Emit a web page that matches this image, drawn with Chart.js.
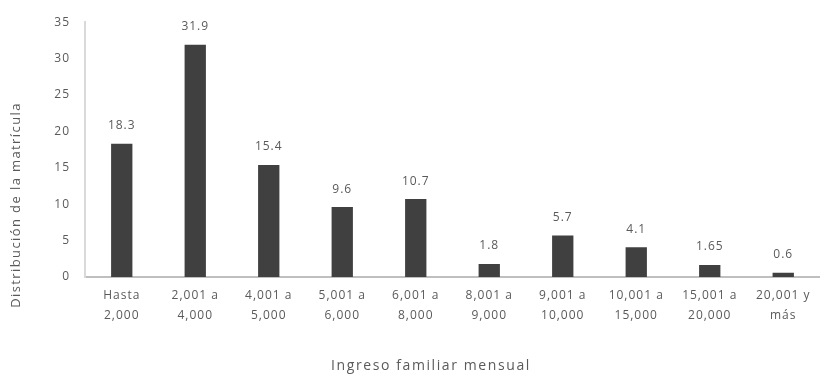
<!DOCTYPE html>
<html>
<head>
<meta charset="utf-8">
<script src="https://cdn.jsdelivr.net/npm/chart.js@4/dist/chart.umd.min.js"></script>
<style>
  html, body { margin: 0; padding: 0; background: #ffffff; }
  #wrap { width: 820px; height: 378px; position: relative; }
</style>
</head>
<body>
<div id="wrap"><canvas id="c"></canvas></div>
<script>
// Income brackets (two-line labels) and share of enrolment per bracket
const categories = [
  ["Hasta", "2,000"],
  ["2,001 a", "4,000"],
  ["4,001 a", "5,000"],
  ["5,001 a", "6,000"],
  ["6,001 a", "8,000"],
  ["8,001 a", "9,000"],
  ["9,001 a", "10,000"],
  ["10,001 a", "15,000"],
  ["15,001 a", "20,000"],
  ["20,001 y", "más"]
];
const enrolment = [18.3, 31.9, 15.4, 9.6, 10.7, 1.8, 5.7, 4.1, 1.65, 0.6];
const valueLabels = ["18.3", "31.9", "15.4", "9.6", "10.7", "1.8", "5.7", "4.1", "1.65", "0.6"];
const yTicks = [0, 5, 10, 15, 20, 25, 30, 35];
const xTitle = "Ingreso familiar mensual";
const yTitle = "Distribución de la matrícula";

const FONT = "'Open Sans', sans-serif";
const TEXT = "#5a5a5a";
const SPACING = "1px";

// Slightly wider letter spacing for all chart text
const spacing = {
  id: "spacing",
  beforeLayout(chart) { chart.ctx.letterSpacing = SPACING; },
  beforeDraw(chart) { chart.ctx.letterSpacing = SPACING; }
};

// Value above each bar
const barValues = {
  id: "barValues",
  afterDatasetsDraw(chart) {
    const ctx = chart.ctx;
    const meta = chart.getDatasetMeta(0);
    ctx.save();
    ctx.letterSpacing = SPACING;
    ctx.font = "12px " + FONT;
    ctx.fillStyle = TEXT;
    ctx.textAlign = "center";
    ctx.textBaseline = "middle";
    meta.data.forEach((bar, i) => {
      ctx.fillText(valueLabels[i], bar.x, bar.y - 18);
    });
    ctx.restore();
  }
};

// Axis titles
const axisTitles = {
  id: "axisTitles",
  afterDraw(chart) {
    const ctx = chart.ctx;
    ctx.save();
    ctx.fillStyle = TEXT;
    ctx.textAlign = "center";
    ctx.textBaseline = "middle";
    ctx.font = "14px " + FONT;
    ctx.letterSpacing = "1.6px";
    ctx.fillText(xTitle, 431, 366);
    ctx.translate(16, 205);
    ctx.rotate(-Math.PI / 2);
    ctx.font = "13px " + FONT;
    ctx.letterSpacing = "1.4px";
    ctx.fillText(yTitle, 0, 0);
    ctx.restore();
  }
};

new Chart(document.getElementById("c"), {
  type: "bar",
  data: {
    labels: categories,
    datasets: [{
      data: enrolment,
      backgroundColor: "#404040",
      borderWidth: 0,
      barPercentage: 0.29,
      categoryPercentage: 1.0
    }]
  },
  options: {
    responsive: true,
    maintainAspectRatio: false,
    animation: false,
    layout: { padding: { top: 2, right: 0, bottom: 0, left: 0 } },
    plugins: {
      legend: { display: false },
      tooltip: { enabled: false }
    },
    scales: {
      x: {
        afterFit(scale) { scale.height = 101; },
        grid: { display: false, drawTicks: false },
        border: { display: true, color: "#bfbfbf", width: 2 },
        ticks: {
          color: TEXT,
          font: { family: FONT, size: 12, lineHeight: 1.7 },
          padding: 8,
          maxRotation: 0,
          autoSkip: false
        }
      },
      y: {
        min: 0,
        max: 35,
        afterBuildTicks(scale) { scale.ticks = yTicks.map(v => ({ value: v })); },
        afterFit(scale) { scale.width = 85; },
        grid: { display: false, drawTicks: false },
        border: { display: true, color: "#d9d9d9", width: 2 },
        ticks: {
          color: TEXT,
          font: { family: FONT, size: 12 },
          padding: 15
        }
      }
    }
  },
  plugins: [spacing, barValues, axisTitles]
});
</script>
</body>
</html>
